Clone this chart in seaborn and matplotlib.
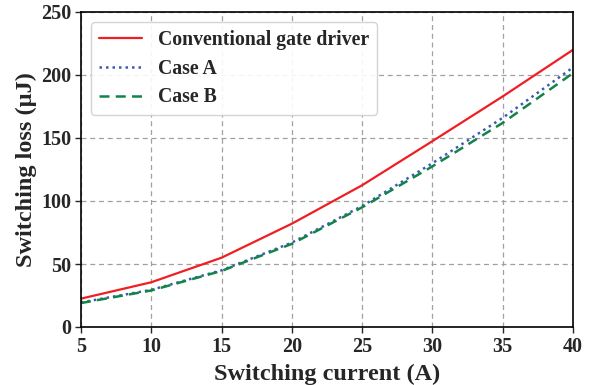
import matplotlib
matplotlib.use("Agg")
import matplotlib.pyplot as plt
import seaborn as sns
import pandas as pd

current = [5, 10, 15, 20, 25, 30, 35, 40]
conventional = [22.5, 35.5, 55, 82, 112.5, 147.5, 183, 220]
case_a = [19.5, 29.5, 45, 67, 96, 130, 166, 206]
case_b = [19, 29, 44.5, 66, 95, 127.5, 162, 201.5]
series_names = ["Conventional gate driver", "Case A", "Case B"]
x_ticks = [5, 10, 15, 20, 25, 30, 35, 40]
y_ticks = [0, 50, 100, 150, 200, 250]

sns.set_style("ticks")
plt.rcParams['font.family'] = ['Liberation Serif', 'DejaVu Serif']
plt.rcParams['font.weight'] = 'bold'

fig = plt.figure(figsize=(6.03, 3.85), dpi=100)
ax = fig.add_axes([81/603, 1-327/385, (573-81)/603, (327-12)/385])

df = pd.DataFrame({"x": current, "conv": conventional, "a": case_a, "b": case_b})
sns.lineplot(data=df, x="x", y="conv", ax=ax, color="#f01e23", linewidth=1.6,
             linestyle="-", label=series_names[0])
sns.lineplot(data=df, x="x", y="a", ax=ax, color="#3a5cb0", linewidth=1.8,
             linestyle=(0, (1, 1.6)), label=series_names[1])
sns.lineplot(data=df, x="x", y="b", ax=ax, color="#13834a", linewidth=1.8,
             linestyle=(0, (4, 2.5)), label=series_names[2])

ax.set_xlim(5, 40)
ax.set_ylim(0, 250)
ax.set_xticks(x_ticks)
ax.set_yticks(y_ticks)
ax.tick_params(axis='both', labelsize=14.5, length=4, width=1, direction='out', pad=3)
for lbl in ax.get_xticklabels() + ax.get_yticklabels():
    lbl.set_fontweight('bold')
ax.grid(True, color='#a0a0a0', linestyle=(0, (4, 3)), linewidth=0.9)
for s in ax.spines.values():
    s.set_visible(True)
    s.set_color('black')
    s.set_linewidth(1.2)

ax.set_xlabel("Switching current (A)", fontsize=17.5, fontweight='bold', labelpad=5)
ax.set_ylabel("Switching loss (\u03bcJ)", fontsize=17.5, fontweight='bold', labelpad=3)

leg = ax.legend(loc='upper left', fontsize=14.2, frameon=True, fancybox=True,
                edgecolor='#d0d0d0', framealpha=0.9, handlelength=2.2,
                handletextpad=0.8, borderpad=0.4, labelspacing=0.45,
                bbox_to_anchor=(0.0, 1.0))
for t in leg.get_texts():
    t.set_fontweight('bold')

fig.savefig("out.png", dpi=100)
